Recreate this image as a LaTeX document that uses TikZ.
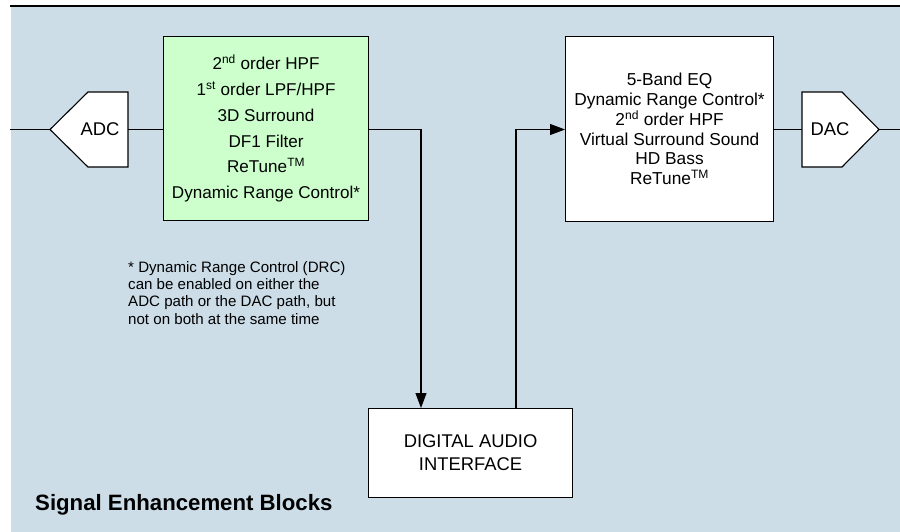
\documentclass[tikz,border=0pt]{standalone}
\usepackage{fontspec}
\setmainfont{Liberation Sans}
\usetikzlibrary{arrows.meta}
\definecolor{bgblue}{RGB}{204,221,232}
\definecolor{boxgreen}{RGB}{204,255,204}
\begin{document}
\begin{tikzpicture}[x=1pt,y=-1pt,
  wire/.style={line width=1.1pt,black},
  arr/.style={wire,-{Triangle[length=15pt,width=11pt]}},
  blockbox/.style={draw=black,line width=1.1pt,fill=white,inner sep=0pt,align=center,anchor=north west},
  convbox/.style={draw=black,line width=1.1pt,fill=white,line join=miter},
  labtext/.style={font=\fontsize{18.4}{22}\selectfont,inner sep=0pt}
]
\useasboundingbox (0,0) rectangle (900,532);
\fill[white] (0,0) rectangle (900,532);
\fill[bgblue] (11,7) rectangle (900,532);
\draw[line width=2pt] (10,6) -- (900,6);

% blocks
\node[blockbox, fill=boxgreen, minimum width=205pt, minimum height=184pt,
      font=\fontsize{17.1}{25.7}\selectfont] (hpf) at (163,36)
  {2\textsuperscript{nd} order HPF\\1\textsuperscript{st} order LPF/HPF\\3D Surround\\DF1 Filter\\ReTune\textsuperscript{TM}\\Dynamic Range Control*};
\node[blockbox, minimum width=208pt, minimum height=185pt,
      font=\fontsize{17.3}{19.8}\selectfont] (eq) at (565,36)
  {5-Band EQ\\Dynamic Range Control*\\2\textsuperscript{nd} order HPF\\Virtual Surround Sound\\HD Bass\\ReTune\textsuperscript{TM}};
\node[blockbox, minimum width=204pt, minimum height=89pt,
      font=\fontsize{18.4}{23}\selectfont] (dai) at (368,408)
  {DIGITAL AUDIO\\INTERFACE};

% converters
\draw[convbox] (50,129.5) -- (88,92) -- (128,92) -- (128,167) -- (88,167) -- cycle;
\node[labtext] (adc) at (100,129.5) {ADC};
\coordinate (adcL) at (50,129.5);
\coordinate (adcR) at (128,129.5);
\draw[convbox] (802,92) -- (842,92) -- (879,129.5) -- (842,167) -- (802,167) -- cycle;
\node[labtext] (dac) at (830,129.5) {DAC};
\coordinate (dacL) at (802,129.5);
\coordinate (dacR) at (879,129.5);

% connectors
\coordinate (inL) at (10,129.5);
\coordinate (outR) at (900,129.5);
\coordinate (dnA) at (421,0);
\coordinate (upB) at (516,0);
\draw[wire] (inL) -- (adcL);
\draw[wire] (adcR) -- (adcR -| hpf.west);
\draw[arr] (adcR -| hpf.east) -| (dnA |- dai.north);
\draw[arr] (upB |- dai.north) |- (eq.west |- adcR);
\draw[wire] (eq.east |- adcR) -- (dacL);
\draw[wire] (dacR) -- (outR);

% texts
\node[anchor=north west, inner sep=0pt, align=left, font=\fontsize{15.1}{17.4}\selectfont] (note) at (128,261)
  {* Dynamic Range Control (DRC)\\can be enabled on either the\\ADC path or the DAC path, but\\not on both at the same time};
\node[anchor=base west, inner sep=0pt, font=\bfseries\fontsize{22.2}{26}\selectfont] (title) at (35,510)
  {Signal Enhancement Blocks};
\end{tikzpicture}
\end{document}
